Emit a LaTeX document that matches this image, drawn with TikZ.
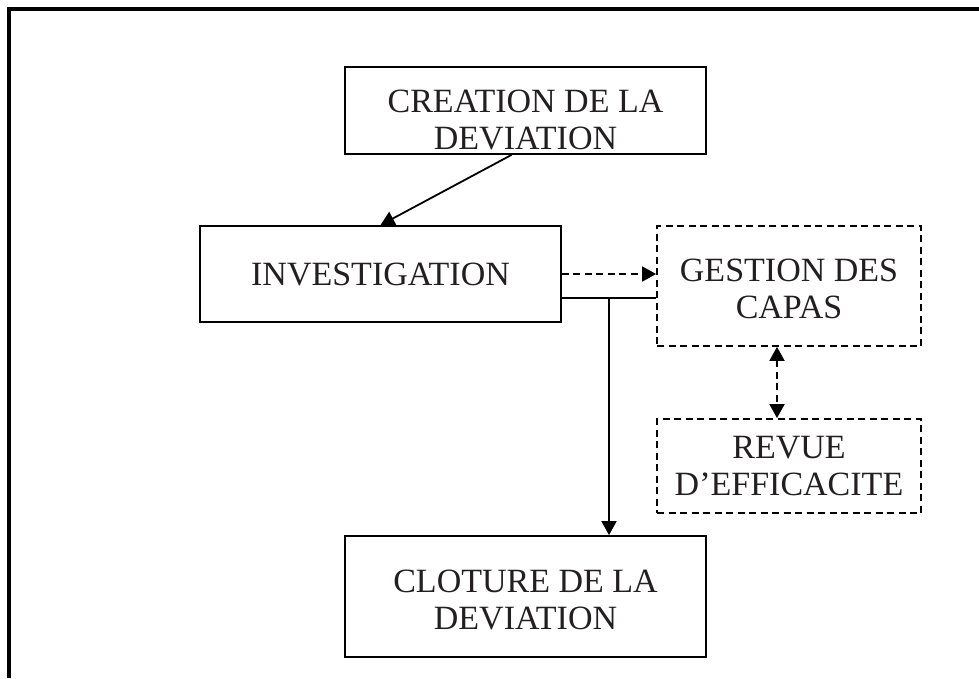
\documentclass[tikz,border=0pt]{standalone}
\usepackage{fontspec}
\setmainfont{Liberation Serif}
\usetikzlibrary{arrows.meta,calc}
\definecolor{txtgray}{RGB}{35,31,32}
\newcommand{\topstrut}[1]{\rule{0pt}{#1pt}}
\tikzset{
  head/.tip={Triangle[length=14pt,width=15pt]},
  stepbox/.style={draw, line width=1.8pt, inner sep=0pt, align=center, text=txtgray,
    font=\fontsize{34}{37}\selectfont},
  dashbox/.style={stepbox, dash pattern=on 7pt off 4.5pt},
  flow/.style={line width=1.8pt, -head},
}
\begin{document}
\begin{tikzpicture}[x=1pt, y=-1pt]
\useasboundingbox (0,0) rectangle (979,678);
\draw[line width=4pt] (9,678) -- (9,9) -- (979,9); % frame
\node[stepbox, minimum width=361pt, minimum height=87pt] (crea) at (525.5,110.5) {\topstrut{42}CREATION DE LA\\DEVIATION}; % start
\node[stepbox, minimum width=361pt, minimum height=96pt] (inv) at (380.5,274) {INVESTIGATION}; % investigation
\node[dashbox, minimum width=264pt, minimum height=120pt] (ges) at (789,286) {\topstrut{29}GESTION DES\\CAPAS}; % capas
\node[dashbox, minimum width=264pt, minimum height=94pt] (rev) at (789,466) {REVUE\\D’EFFICACITE}; % revue
\node[stepbox, minimum width=361pt, minimum height=121pt] (clo) at (525.5,596.5) {\topstrut{30}CLOTURE DE LA\\DEVIATION}; % end
\coordinate (split) at (609,298); % branch point
\draw[flow] ([xshift=-14pt]crea.south) -- (inv.north); % creation to investigation
\draw[flow, dash pattern=on 7pt off 4.5pt] (inv.east) -- (inv.east -| ges.west); % to capas
\draw[line width=1.8pt] (split -| inv.east) -- (split -| ges.west); % branch
\draw[flow] (split) -- (split |- clo.north); % to closure
\draw[flow, head-head, dash pattern=on 7pt off 4.5pt] ([xshift=-12pt]ges.south) -- ([xshift=-12pt]ges.south |- rev.north); % capas <-> revue
\end{tikzpicture}
\end{document}
